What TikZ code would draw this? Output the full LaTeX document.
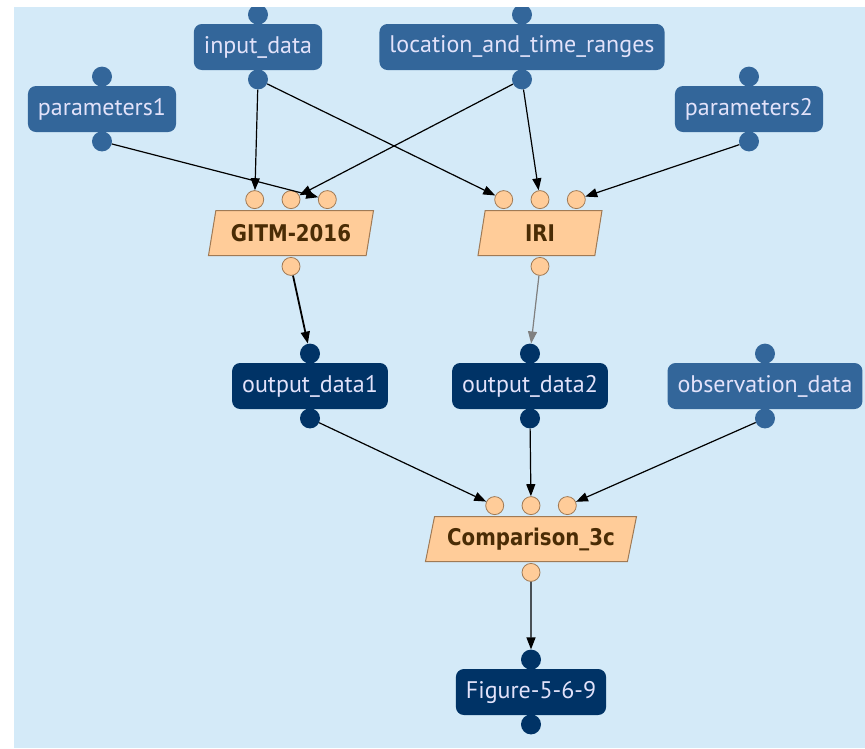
\documentclass[tikz,border=0pt]{standalone}
\usepackage{fontspec}
\setmainfont{PT Sans}
\newfontfamily\procfont[FakeStretch=0.86]{DejaVu Sans Bold}
\usetikzlibrary{positioning}
\usetikzlibrary{shapes.geometric}
\usetikzlibrary{arrows.meta}
\definecolor{panelbg}{HTML}{D4EAF8}
\definecolor{databox}{HTML}{33669A}
\definecolor{resultbox}{HTML}{003366}
\definecolor{datatext}{HTML}{E2E2FA}
\definecolor{procfill}{HTML}{FFCC99}
\definecolor{procdraw}{HTML}{A07A55}
\definecolor{proctext}{HTML}{4A2C05}
\tikzset {
  % data set boxes
  data node/.style = {
    rectangle,
    rounded corners = 8pt,
    minimum height = 46pt,
    inner xsep = 10pt,
    text = datatext,
    font = \fontsize{24}{24}\selectfont
  },
  input/.style = {
    data node,
    fill = databox
  },
  % produced data sets are darker
  result/.style = {
    data node,
    fill = resultbox
  },
  % knobs on top and bottom of the data boxes
  inport/.style = {
    circle,
    fill = databox,
    minimum size = 20pt,
    inner sep = 0
  },
  resport/.style = {
    inport,
    fill = resultbox
  },
  % model runs
  proc/.style = {
    trapezium,
    trapezium left angle = 73,
    trapezium right angle = 107,
    trapezium stretches body,
    draw = procdraw,
    line width = 1pt,
    fill = procfill,
    minimum height = 45pt,
    text = proctext,
    font = {\procfont\fontsize{23}{23}\selectfont}
  },
  pport/.style = {
    circle,
    draw = procdraw,
    line width = 0.8pt,
    fill = procfill,
    minimum size = 18pt,
    inner sep = 0
  },
  link/.style = {
    draw = black,
    line width = 1.2pt,
    -{Triangle[length = 12pt, width = 9pt]}
  },
  node distance = 17.5pt
}
\begin{document}
\begin{tikzpicture}[x = 1pt, y = -1pt]
    \useasboundingbox (0,0) rectangle (865,748);
    \fill[panelbg] (14,7) rectangle (865,748);
    \clip (14,7) rectangle (865,748);

    % inputs
    \node[input] (input_data) at (258,47) {input\_data};
    \node[input] (location) at (522,47) {location\_and\_time\_ranges};
    \node[input] (parameters1) at (102,109) {parameters1};
    \node[input] (parameters2) at (749,109) {parameters2};
    \foreach \n in {input_data, location, parameters1, parameters2} {
      \node[inport] (\n-in) [above=-1pt of \n] {};
      \node[inport] (\n-out) [below=-1pt of \n] {};
    }

    % models
    \node[proc, minimum width = 165pt] (gitm) at (291,233) {GITM-2016};
    \node[proc, minimum width = 124pt] (iri) at (540,233) {IRI};
    \node[proc, minimum width = 211pt] (comparison) at (531,539) {Comparison\_3c};
    \foreach \n in {gitm, iri, comparison} {
      \node[pport] (\n-in2) [above=1pt of \n] {};
      \node[pport] (\n-in1) [left=of \n-in2] {};
      \node[pport] (\n-in3) [right=of \n-in2] {};
      \node[pport] (\n-out) [below=1pt of \n] {};
    }

    % outputs
    \node[result] (output_data1) at (310,386) {output\_data1};
    \node[result] (output_data2) at (530,386) {output\_data2};
    \node[input] (observation_data) at (765,386) {observation\_data};
    \node[result] (figure) at (531,692) {Figure-5-6-9};
    \foreach \n in {output_data1, output_data2, figure} {
      \node[resport] (\n-in) [above=-1pt of \n] {};
      \node[resport] (\n-out) [below=-1pt of \n] {};
    }
    \node[inport] (observation_data-in) [above=-1pt of observation_data] {};
    \node[inport] (observation_data-out) [below=-1pt of observation_data] {};

    \draw[link] (input_data-out) -- (gitm-in1);
    \draw[link] (input_data-out) -- (iri-in1);
    \draw[link] (parameters1-out) -- (gitm-in3);
    \draw[link] (location-out) -- (gitm-in2);
    \draw[link] (location-out) -- (iri-in2);
    \draw[link] (parameters2-out) -- (iri-in3);

    \draw[link, line width = 1.8pt] (gitm-out) -- (output_data1-in);
    \draw[link, draw = gray, fill = gray] (iri-out) -- (output_data2-in);

    \draw[link] (output_data1-out) -- (comparison-in1);
    \draw[link] (output_data2-out) -- (comparison-in2);
    \draw[link] (observation_data-out) -- (comparison-in3);
    \draw[link] (comparison-out) -- (figure-in);
\end{tikzpicture}
\end{document}
